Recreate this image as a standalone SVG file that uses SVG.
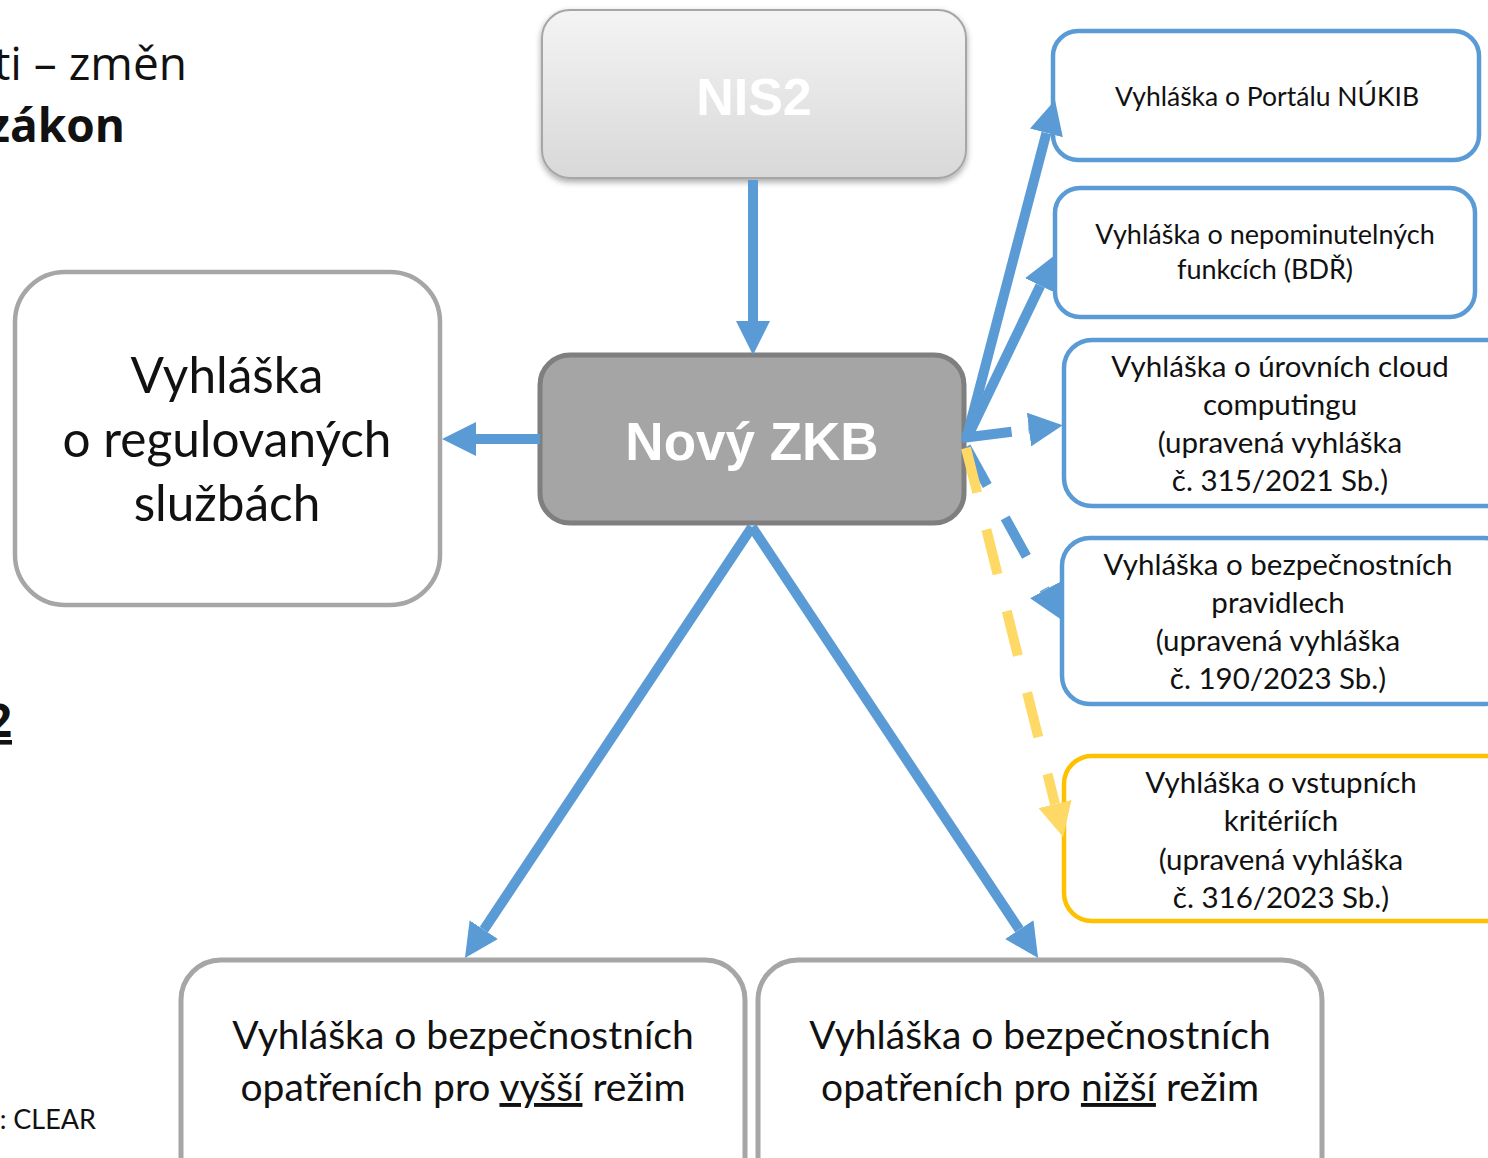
<svg xmlns="http://www.w3.org/2000/svg" width="1488" height="1158" viewBox="0 0 1488 1158">
<style>
.bx{fill:#fff;stroke:#5b9bd5;stroke-width:4.5}
.gx{fill:#fff;stroke:#a6a6a6;stroke-width:4.5}
.yx{fill:#fff;stroke:#ffc000;stroke-width:4.5}
.t{font-family:Lato,"Liberation Sans",sans-serif;fill:#111;text-anchor:middle}
.s27{font-size:26.5px}
.s27b{font-size:27px}
.s29{font-size:29.5px}
.s37{font-size:39px}
.s49{font-size:49.5px}
.hd{font-family:"Open Sans","Noto Sans",sans-serif;fill:#111;text-anchor:end}
.wt{font-family:"Liberation Sans",Arial,sans-serif;font-weight:bold;fill:#fff;text-anchor:middle}
.c{fill:none;stroke:#5b9bd5;stroke-width:10}
.cy{fill:none;stroke:#ffd966;stroke-width:10}
</style>
<defs>
<linearGradient id="gNis" x1="0" y1="0" x2="0" y2="1">
<stop offset="0" stop-color="#f4f4f4"/>
<stop offset="1" stop-color="#d8d8d8"/>
</linearGradient>
<filter id="sh" x="-10%" y="-10%" width="120%" height="130%">
<feDropShadow dx="0" dy="3" stdDeviation="3" flood-color="#000" flood-opacity="0.35"/>
</filter>
<marker id="ab" viewBox="0 0 34 34" markerWidth="34" markerHeight="34" markerUnits="userSpaceOnUse" refX="0" refY="17" orient="auto">
<path d="M0,0 L34,17 L0,34 z" fill="#5b9bd5"/>
</marker>
<marker id="ay" viewBox="0 0 34 34" markerWidth="34" markerHeight="34" markerUnits="userSpaceOnUse" refX="0" refY="17" orient="auto">
<path d="M0,0 L34,17 L0,34 z" fill="#ffd966"/>
</marker>
</defs>

<g id="heading">
<text class="hd" x="187" y="80" font-size="46">ti – změn</text>
<text class="hd" x="125" y="142" font-size="46" font-weight="bold">zákon</text>
<text class="hd" x="12" y="737" font-size="46" font-weight="bold" text-decoration="underline">2</text>
<text class="t" x="96" y="1129" font-size="27" style="text-anchor:end">: CLEAR</text>
</g>

<g id="node-nis2">
<rect x="542" y="10" width="424" height="168" rx="28" fill="url(#gNis)" stroke="#a6a6a6" stroke-width="2" filter="url(#sh)"/>
<text class="wt" x="754" y="115" font-size="52">NIS2</text>
</g>

<g id="node-zkb">
<rect x="540" y="355" width="424" height="168" rx="30" fill="#a5a5a5" stroke="#7f7f7f" stroke-width="5"/>
<text class="wt" x="752" y="460" font-size="53">Nový ZKB</text>
</g>

<g id="node-regulovane">
<rect class="gx" x="15" y="272" width="425" height="333" rx="50"/>
<text class="t s49" x="227" y="393">Vyhláška</text>
<text class="t s49" x="227" y="457">o regulovaných</text>
<text class="t s49" x="227" y="521">službách</text>
</g>

<g id="node-portal">
<rect class="bx" x="1053" y="31" width="426" height="129" rx="25"/>
<text class="t s27" x="1267" y="106">Vyhláška o Portálu NÚKIB</text>
</g>

<g id="node-nepominutelne">
<rect class="bx" x="1055" y="188" width="420" height="129" rx="25"/>
<text class="t s27b" x="1265" y="244">Vyhláška o nepominutelných</text>
<text class="t s27b" x="1265" y="279">funkcích (BDŘ)</text>
</g>

<g id="node-cloud">
<rect class="bx" x="1064" y="340" width="450" height="166" rx="28"/>
<text class="t s29" x="1280" y="377">Vyhláška o úrovních cloud</text>
<text class="t s29" x="1280" y="415">computingu</text>
<text class="t s29" x="1280" y="453">(upravená vyhláška</text>
<text class="t s29" x="1280" y="491">č. 315/2021 Sb.)</text>
</g>

<g id="node-pravidla">
<rect class="bx" x="1062" y="538" width="450" height="166" rx="28"/>
<text class="t s29" x="1278" y="575">Vyhláška o bezpečnostních</text>
<text class="t s29" x="1278" y="613">pravidlech</text>
<text class="t s29" x="1278" y="651">(upravená vyhláška</text>
<text class="t s29" x="1278" y="689">č. 190/2023 Sb.)</text>
</g>

<g id="node-vstupni">
<rect class="yx" x="1064" y="756" width="450" height="165" rx="28"/>
<text class="t s29" x="1281" y="793">Vyhláška o vstupních</text>
<text class="t s29" x="1281" y="831">kritériích</text>
<text class="t s29" x="1281" y="870">(upravená vyhláška</text>
<text class="t s29" x="1281" y="908">č. 316/2023 Sb.)</text>
</g>

<g id="node-vyssi">
<rect x="181" y="960" width="564" height="240" rx="40" fill="#fff" stroke="#a6a6a6" stroke-width="5"/>
<text class="t s37" x="463" y="1049">Vyhláška o bezpečnostních</text>
<text class="t s37" x="463" y="1101">opatřeních pro <tspan text-decoration="underline">vyšší</tspan> režim</text>
</g>

<g id="node-nizsi">
<rect x="758" y="960" width="564" height="240" rx="40" fill="#fff" stroke="#a6a6a6" stroke-width="5"/>
<text class="t s37" x="1040" y="1049">Vyhláška o bezpečnostních</text>
<text class="t s37" x="1040" y="1101">opatřeních pro <tspan text-decoration="underline">nižší</tspan> režim</text>
</g>

<g id="connectors">
<path class="c" d="M753,180 L753,321" marker-end="url(#ab)"/>
<path class="c" d="M540,439 L476,439" marker-end="url(#ab)"/>
<path class="c" d="M752,527 L483.8,929.7" marker-end="url(#ab)"/>
<path class="c" d="M752,527 L1019.3,929.6" marker-end="url(#ab)"/>
<path class="c" d="M966,440 L1046.4,132.9" marker-end="url(#ab)"/>
<path class="c" d="M966,440 L1040.3,285.6" marker-end="url(#ab)"/>
<path class="c" d="M962,438 L1029,429.5" stroke-dasharray="50 17" marker-end="url(#ab)"/>
<path class="c" d="M966,447 L1045,590" stroke-dasharray="44 37" marker-end="url(#ab)"/>
<path class="cy" d="M966,448 L1055,804" stroke-dasharray="46 38" marker-end="url(#ay)"/>
</g>
</svg>
